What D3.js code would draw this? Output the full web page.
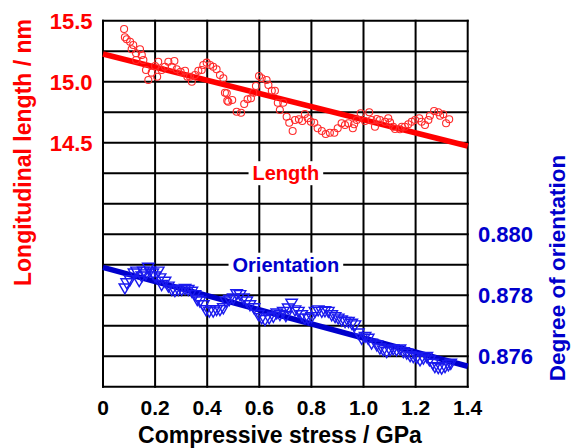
<!DOCTYPE html>
<html>
<head>
<meta charset="utf-8">
<script src="https://cdn.jsdelivr.net/npm/d3@7"></script>
<style>
  body { margin: 0; background: #fff; }
  svg { display: block; font-family: "Liberation Sans", Arial, sans-serif; font-weight: bold; }
</style>
</head>
<body>
<svg id="chart" width="571" height="448"></svg>
<script>
// stress (GPa) vs longitudinal length (nm)
const lengthX = [0.081,0.084,0.091,0.104,0.116,0.110,0.127,0.142,0.149,0.127,0.155,0.165,0.174,0.187,0.200,0.212,0.208,0.225,0.238,0.251,0.264,0.274,0.283,0.298,0.315,0.324,0.341,0.334,0.353,0.366,0.379,0.385,0.398,0.411,0.423,0.436,0.449,0.462,0.468,0.477,0.475,0.481,0.496,0.513,0.530,0.542,0.555,0.568,0.577,0.587,0.599,0.609,0.628,0.635,0.648,0.660,0.671,0.679,0.692,0.705,0.715,0.728,0.737,0.752,0.765,0.775,0.786,0.798,0.811,0.824,0.840,0.855,0.871,0.888,0.901,0.916,0.929,0.942,0.959,0.964,0.974,0.989,1.006,1.022,1.031,1.044,1.051,1.063,1.083,1.095,1.102,1.114,1.121,1.140,1.147,1.159,1.172,1.185,1.198,1.214,1.223,1.236,1.249,1.255,1.271,1.287,1.294,1.306,1.317,1.329];
const lengthY = [15.432,15.364,15.348,15.328,15.301,15.266,15.233,15.266,15.219,15.178,15.178,15.096,15.014,15.074,15.129,15.164,15.041,15.096,15.123,15.164,15.123,15.170,15.102,15.082,15.090,15.041,15.000,15.041,15.055,15.090,15.096,15.137,15.156,15.137,15.123,15.102,15.055,15.028,14.910,14.844,14.905,14.836,14.850,14.754,14.746,14.817,14.856,14.864,14.910,14.965,15.047,15.028,15.014,14.973,14.926,14.926,14.828,14.768,14.828,14.713,14.664,14.596,14.686,14.692,14.678,14.735,14.700,14.672,14.664,14.618,14.596,14.571,14.582,14.582,14.618,14.659,14.645,14.659,14.618,14.651,14.686,14.741,14.678,14.749,14.686,14.631,14.694,14.686,14.672,14.700,14.667,14.631,14.612,14.610,14.631,14.631,14.651,14.672,14.686,14.700,14.672,14.645,14.686,14.721,14.760,14.749,14.721,14.733,14.659,14.692];

// stress (GPa) vs degree of orientation
const orientX = [0.084,0.091,0.104,0.119,0.129,0.139,0.149,0.155,0.165,0.174,0.180,0.191,0.200,0.212,0.219,0.225,0.238,0.251,0.264,0.276,0.289,0.302,0.315,0.327,0.341,0.353,0.362,0.372,0.385,0.395,0.408,0.423,0.436,0.449,0.462,0.472,0.485,0.500,0.513,0.526,0.539,0.552,0.564,0.580,0.596,0.609,0.622,0.638,0.654,0.667,0.679,0.692,0.702,0.711,0.724,0.737,0.750,0.763,0.775,0.788,0.801,0.814,0.826,0.840,0.852,0.865,0.878,0.891,0.903,0.916,0.929,0.942,0.955,0.967,0.980,0.993,1.006,1.018,1.031,1.051,1.063,1.076,1.089,1.102,1.114,1.127,1.140,1.153,1.166,1.179,1.191,1.204,1.217,1.230,1.243,1.253,1.266,1.274,1.287,1.300,1.313,1.326,1.335];
const orientY = [0.87826,0.87843,0.87853,0.87875,0.87881,0.87850,0.87865,0.87881,0.87872,0.87894,0.87881,0.87875,0.87865,0.87881,0.87859,0.87837,0.87848,0.87832,0.87821,0.87817,0.87821,0.87821,0.87824,0.87821,0.87815,0.87804,0.87788,0.87783,0.87771,0.87755,0.87750,0.87750,0.87755,0.87755,0.87761,0.87783,0.87788,0.87793,0.87807,0.87804,0.87793,0.87783,0.87771,0.87761,0.87739,0.87728,0.87722,0.87728,0.87733,0.87744,0.87739,0.87749,0.87735,0.87760,0.87776,0.87754,0.87749,0.87738,0.87727,0.87727,0.87732,0.87749,0.87754,0.87749,0.87751,0.87749,0.87738,0.87732,0.87727,0.87721,0.87716,0.87716,0.87710,0.87705,0.87678,0.87661,0.87667,0.87661,0.87645,0.87639,0.87629,0.87623,0.87617,0.87623,0.87626,0.87623,0.87626,0.87617,0.87612,0.87604,0.87601,0.87598,0.87590,0.87596,0.87601,0.87590,0.87579,0.87568,0.87565,0.87563,0.87568,0.87574,0.87579];

// linear fits (endpoints at 0 and 1.4 GPa)
const fitX = [0, 1.4];
const lengthFit = [15.227, 14.473];
const orientFit = [0.87891, 0.87567];

const xTicks = [0, 0.2, 0.4, 0.6, 0.8, 1.0, 1.2, 1.4];
const xTickLabels = ["0", "0.2", "0.4", "0.6", "0.8", "1.0", "1.2", "1.4"];
const leftTicks = [15.5, 15.0, 14.5];
const rightTicks = [0.880, 0.878, 0.876];

const red = "#ff0000";
const blue = "#0000cc";

const svg = d3.select("#chart");
const plotL = 103, plotR = 467.7, plotT = 20.7, plotB = 386.7;

const x = d3.scaleLinear().domain([0, 1.4]).range([plotL, plotR]);
const yL = d3.scaleLinear().domain([12.5, 15.5]).range([plotB, plotT]);
const yR = d3.scaleLinear().domain([0.875, 0.887]).range([plotB, plotT]);

// grid
const grid = svg.append("g").attr("stroke", "#000").attr("stroke-width", 2);
grid.selectAll("line.v").data(xTicks).join("line")
  .attr("x1", d => x(d)).attr("x2", d => x(d))
  .attr("y1", plotT - 1).attr("y2", plotB + 1);
grid.selectAll("line.h").data(d3.range(0, 13).map(i => 12.5 + i * 0.25)).join("line")
  .attr("x1", plotL - 1).attr("x2", plotR + 1)
  .attr("y1", d => yL(d)).attr("y2", d => yL(d));

// inline labels with white boxes
function tag(text, cx, cy, color) {
  const g = svg.append("g");
  const t = g.append("text").attr("x", cx).attr("y", cy).attr("dy", "0.36em")
    .attr("text-anchor", "middle").attr("font-size", 20).attr("fill", color).text(text);
  const b = t.node().getBBox();
  g.insert("rect", "text").attr("x", b.x - 4).attr("y", cy - 12)
    .attr("width", b.width + 8).attr("height", 24).attr("fill", "#fff");
}
tag("Length", x(0.702), yL(14.25), red);
tag("Orientation", x(0.702), yR(0.879), blue);

// fit lines
svg.append("line")
  .attr("x1", x(fitX[0])).attr("y1", yL(lengthFit[0]))
  .attr("x2", x(fitX[1])).attr("y2", yL(lengthFit[1]))
  .attr("stroke", red).attr("stroke-width", 5.5);
svg.append("line")
  .attr("x1", x(fitX[0])).attr("y1", yR(orientFit[0]))
  .attr("x2", x(fitX[1])).attr("y2", yR(orientFit[1]))
  .attr("stroke", blue).attr("stroke-width", 5.5);

// points
svg.append("g").selectAll("circle").data(lengthX).join("circle")
  .attr("cx", d => x(d)).attr("cy", (d, i) => yL(lengthY[i])).attr("r", 3.5)
  .attr("fill", "none").attr("stroke", "#ff2a2a").attr("stroke-width", 1.1);

const tri = d3.symbol().type(d3.symbolTriangle).size(58);
svg.append("g").selectAll("path").data(orientX).join("path")
  .attr("d", tri)
  .attr("transform", (d, i) => `translate(${x(d)},${yR(orientY[i])}) rotate(180)`)
  .attr("fill", "none").attr("stroke", "#1a1aee").attr("stroke-width", 1.4);

// tick labels
svg.append("g").selectAll("text").data(xTicks).join("text")
  .attr("x", d => x(d)).attr("y", 415).attr("text-anchor", "middle")
  .attr("font-size", 21).attr("fill", "#000")
  .text((d, i) => xTickLabels[i]);
svg.append("g").selectAll("text").data(leftTicks).join("text")
  .attr("x", 92.5).attr("y", d => yL(d)).attr("dy", "0.36em").attr("text-anchor", "end")
  .attr("font-size", 22).attr("fill", red).text(d => d.toFixed(1));
svg.append("g").selectAll("text").data(rightTicks).join("text")
  .attr("x", 478).attr("y", d => yR(d)).attr("dy", "0.36em").attr("text-anchor", "start")
  .attr("font-size", 22).attr("fill", blue).text(d => d.toFixed(3));

// axis titles
svg.append("text").attr("x", 280).attr("y", 443).attr("text-anchor", "middle")
  .attr("font-size", 23).attr("fill", "#000").text("Compressive stress / GPa");
svg.append("text").attr("transform", "translate(31,152.5) rotate(-90)")
  .attr("text-anchor", "middle").attr("font-size", 23).attr("fill", red)
  .text("Longitudinal length / nm");
svg.append("text").attr("transform", "translate(565,268) rotate(-90)")
  .attr("text-anchor", "middle").attr("font-size", 22.5).attr("fill", blue)
  .text("Degree of orientation");
</script>
</body>
</html>
